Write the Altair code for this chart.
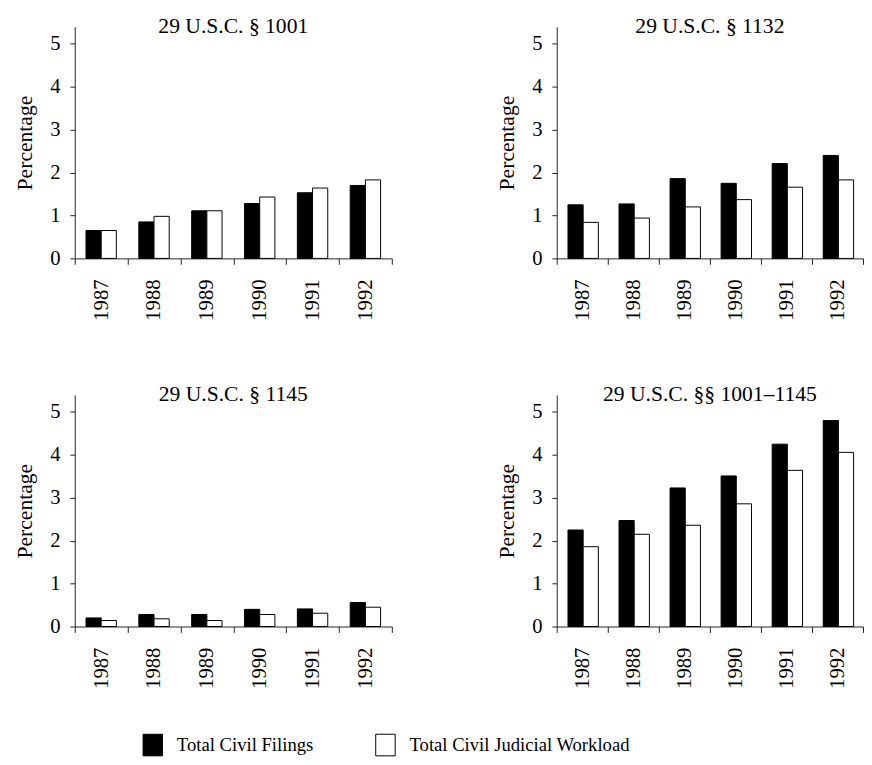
import altair as alt
import pandas as pd

years = ["1987", "1988", "1989", "1990", "1991", "1992"]
series = ["Total Civil Filings", "Total Civil Judicial Workload"]
panels = ["29 U.S.C. § 1001", "29 U.S.C. § 1132", "29 U.S.C. § 1145", "29 U.S.C. §§ 1001–1145"]

filings_1001 = [0.65, 0.85, 1.11, 1.28, 1.53, 1.70]
workload_1001 = [0.65, 0.98, 1.11, 1.43, 1.64, 1.83]
filings_1132 = [1.25, 1.27, 1.86, 1.75, 2.21, 2.40]
workload_1132 = [0.84, 0.94, 1.20, 1.37, 1.66, 1.83]
filings_1145 = [0.20, 0.28, 0.28, 0.40, 0.41, 0.56]
workload_1145 = [0.14, 0.18, 0.14, 0.28, 0.31, 0.45]
filings_all = [2.25, 2.47, 3.23, 3.51, 4.25, 4.80]
workload_all = [1.86, 2.15, 2.36, 2.86, 3.64, 4.06]

panel_values = {
    panels[0]: (filings_1001, workload_1001),
    panels[1]: (filings_1132, workload_1132),
    panels[2]: (filings_1145, workload_1145),
    panels[3]: (filings_all, workload_all),
}

rows = []
for p, (fil, wl) in panel_values.items():
    for y, a, b in zip(years, fil, wl):
        rows.append({"panel": p, "year": y, "series": series[0], "value": a})
        rows.append({"panel": p, "year": y, "series": series[1], "value": b})
df = pd.DataFrame(rows)

FONT = "Liberation Serif"


def panel(name, width):
    return (
        alt.Chart(df)
        .transform_filter(alt.datum.panel == name)
        .mark_bar(stroke="black", strokeWidth=1)
        .encode(
            x=alt.X(
                "year:N",
                sort=years,
                scale=alt.Scale(paddingInner=0, paddingOuter=0),
                axis=alt.Axis(
                    title=None,
                    labelAngle=270,
                    labelAlign="right",
                    labelBaseline="middle",
                    tickBand="extent",
                    tickSize=6,
                    labelPadding=15,
                    labelFontSize=21,
                ),
            ),
            xOffset=alt.XOffset(
                "series:N", sort=series,
                scale=alt.Scale(paddingInner=0, paddingOuter=0.74),
            ),
            y=alt.Y(
                "value:Q",
                scale=alt.Scale(domain=[0, 5.4], nice=False),
                axis=alt.Axis(
                    title="Percentage",
                    values=[0, 1, 2, 3, 4, 5],
                    tickSize=5,
                    labelPadding=10,
                    labelFontSize=21,
                    titlePadding=14,
                    grid=False,
                ),
            ),
            color=alt.Color(
                "series:N",
                sort=series,
                scale=alt.Scale(domain=series, range=["#000000", "#ffffff"]),
                legend=alt.Legend(
                    title=None,
                    orient="none",
                    legendX=68,
                    legendY=720,
                    direction="horizontal",
                    symbolType="M-0.9,-1H0.9V1H-0.9Z",
                    symbolSize=484,
                    symbolStrokeColor="black",
                    symbolStrokeWidth=1,
                    labelFont=FONT,
                    labelFontSize=19,
                    labelColor="black",
                    labelOffset=13,
                    labelLimit=400,
                    columnPadding=60,
                ),
            ),
        )
        .properties(
            width=width,
            height=236,
            title=alt.TitleParams(
                name, font=FONT, fontSize=22, fontWeight="normal",
                color="black", anchor="middle", offset=-11,
            ),
        )
    )


row1 = alt.hconcat(panel(panels[0], 323), panel(panels[1], 312), spacing=104)
row2 = alt.hconcat(panel(panels[2], 323), panel(panels[3], 312), spacing=104)

chart = (
    alt.vconcat(row1, row2, spacing=64)
    .properties(padding={"left": 5, "top": 0, "right": 0, "bottom": 0})
    .configure_view(stroke=None)
    .configure_axis(
        labelFont=FONT,
        titleFont=FONT,
        titleFontSize=22,
        titleFontWeight="normal",
        labelColor="black",
        titleColor="black",
        domainColor="#222222",
        tickColor="#222222",
    )
)

chart.save("out.html", embed_options={"renderer": "svg", "actions": False})
